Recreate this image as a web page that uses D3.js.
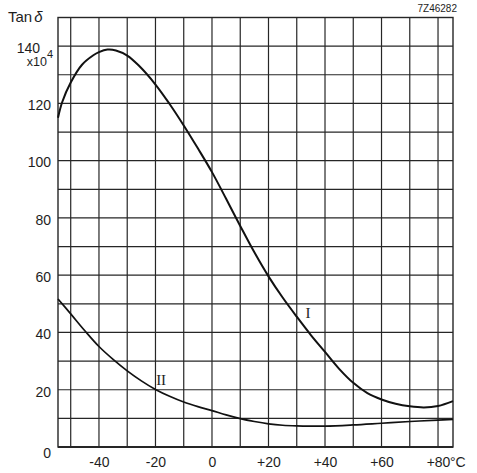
<!DOCTYPE html>
<html>
<head>
<meta charset="utf-8">
<script src="https://cdn.jsdelivr.net/npm/d3@7"></script>
<style>
  html, body { margin: 0; padding: 0; background: #fff; }
  svg { display: block; }
  text { fill: #1e1e1e; }
</style>
</head>
<body>
<script>
// ---- data ----
const tempI = [-54.5, -53, -50, -46, -42, -40, -37, -34, -30, -26, -20, -15, -10, -5, 0, 5, 10, 15, 20, 25, 30, 35, 40, 45, 50, 55, 60, 65, 70, 75, 80, 85.3];
const tanI  = [115, 120.5, 127.3, 133.5, 136.8, 137.9, 138.8, 138.5, 136.7, 133.3, 126.6, 119.8, 112.3, 104.3, 96, 86.7, 77.2, 68, 59.6, 52.2, 45.5, 39.1, 33.2, 27.3, 22.4, 18.8, 16.6, 15.1, 14.2, 13.8, 14.3, 16];
const tempII = [-54.5, -50, -45, -40, -35, -30, -25, -20, -15, -10, -5, 0, 5, 10, 15, 20, 25, 30, 40, 50, 60, 70, 80, 85.3];
const tanII  = [51.7, 46.5, 40.6, 35.1, 30.6, 26.6, 23.1, 20.1, 17.7, 15.7, 14.1, 12.7, 11.2, 9.9, 8.9, 8.1, 7.6, 7.4, 7.3, 7.7, 8.3, 8.9, 9.4, 9.6];
const xTickValues = [-40, -20, 0, 20, 40, 60, 80];
const xTickLabels = ["-40", "-20", "0", "+20", "+40", "+60", "+80"];
const xUnit = "°C";
const yTickValues = [0, 20, 40, 60, 80, 100, 120, 140];
const yTickLabels = ["0", "20", "40", "60", "80", "100", "120", "140"];
const xGrid = [-50, -40, -30, -20, -10, 0, 10, 20, 30, 40, 50, 60, 70, 80];
const yGrid = [10, 20, 30, 40, 50, 60, 70, 80, 90, 100, 110, 120, 130, 140];
const xDomain = [-54.5, 85.3];
const yDomain = [0, 150];
const curveNames = ["I", "II"];

// ---- layout ----
const W = 477, H = 473;
const svg = d3.select("body").append("svg").attr("width", W).attr("height", H);
const x = d3.scaleLinear().domain(xDomain).range([58, 453]);
const y = d3.scaleLinear().domain(yDomain).range([447, 17.5]);
const ink = "#262626";
const font = "'Liberation Sans', Arial, sans-serif";

// grid
const g = svg.append("g");
g.selectAll("line.v").data(xGrid).enter().append("line")
  .attr("x1", d => x(d)).attr("x2", d => x(d))
  .attr("y1", y(yDomain[0])).attr("y2", y(yDomain[1]))
  .attr("stroke", ink).attr("stroke-width", 1.2);
g.selectAll("line.h").data(yGrid).enter().append("line")
  .attr("x1", x(xDomain[0])).attr("x2", x(xDomain[1]))
  .attr("y1", d => y(d)).attr("y2", d => y(d))
  .attr("stroke", ink).attr("stroke-width", 1.2);
// border
svg.append("rect")
  .attr("x", x(xDomain[0])).attr("y", y(yDomain[1]))
  .attr("width", x(xDomain[1]) - x(xDomain[0]))
  .attr("height", y(yDomain[0]) - y(yDomain[1]))
  .attr("fill", "none").attr("stroke", ink).attr("stroke-width", 1.4);
svg.append("line")
  .attr("x1", x(xDomain[0])).attr("x2", x(xDomain[1]))
  .attr("y1", y(0)).attr("y2", y(0))
  .attr("stroke", ink).attr("stroke-width", 2.2);

// x axis labels
const xAxis = d3.axisBottom(x).tickValues(xTickValues)
  .tickFormat((d, i) => xTickLabels[i]).tickSize(0).tickPadding(10);
const gx = svg.append("g").attr("transform", `translate(0,${y(0)})`).call(xAxis);
gx.select(".domain").remove();
gx.selectAll("text").attr("font-family", font).attr("font-size", 14).attr("fill", ink);
gx.append("text").attr("x", x(xTickValues[xTickValues.length - 1]) + 12).attr("y", 10).attr("dy", "0.71em")
  .attr("text-anchor", "start")
  .attr("font-family", font).attr("font-size", 14).attr("fill", ink).text(xUnit);

// y axis labels
const yAxis = d3.axisLeft(y).tickValues(yTickValues)
  .tickFormat((d, i) => yTickLabels[i]).tickSize(0).tickPadding(7);
const gy = svg.append("g").attr("transform", `translate(${x(xDomain[0])},0)`).call(yAxis);
gy.select(".domain").remove();
gy.selectAll("text").attr("font-family", font).attr("font-size", 14).attr("fill", ink)
  .attr("dy", d => d === 0 ? "0.75em" : "0.45em")
  .attr("dx", d => d === 140 ? -11 : 0);

// x10^4 annotation under 140
const ann = svg.append("text").attr("x", x(xDomain[0]) - 5).attr("y", y(140) + 20)
  .attr("text-anchor", "end").attr("font-family", font).attr("font-size", 12.5).attr("fill", ink);
ann.append("tspan").text("x10");
ann.append("tspan").attr("dy", -8).attr("font-size", 11).text("4");

// Tan δ title
const t = svg.append("text").attr("x", 8).attr("y", 22)
  .attr("font-family", font).attr("font-size", 15).attr("fill", ink);
t.append("tspan").text("Tan");
t.append("tspan").attr("font-style", "italic").attr("dx", 2).text("δ");

// figure code
svg.append("text").attr("x", 457).attr("y", 12).attr("text-anchor", "end")
  .attr("font-family", font).attr("font-size", 10).attr("fill", "#555").text("7Z46282");

// curves
const line = d3.line().x(d => x(d[0])).y(d => y(d[1])).curve(d3.curveCatmullRom.alpha(0.5));
const dataI = tempI.map((t, i) => [t, tanI[i]]);
const dataII = tempII.map((t, i) => [t, tanII[i]]);
svg.append("path").datum(dataI).attr("d", line)
  .attr("fill", "none").attr("stroke", "#111").attr("stroke-width", 2);
svg.append("path").datum(dataII).attr("d", line)
  .attr("fill", "none").attr("stroke", "#111").attr("stroke-width", 1.7);

// curve labels
const serif = "'Liberation Serif', 'DejaVu Serif', serif";
svg.append("text").attr("x", x(34)).attr("y", y(45)).attr("text-anchor", "middle")
  .attr("font-family", serif).attr("font-size", 15).attr("fill", ink).text(curveNames[0]);
svg.append("text").attr("x", x(-18)).attr("y", y(21.5)).attr("text-anchor", "middle")
  .attr("font-family", serif).attr("font-size", 15).attr("fill", ink).text(curveNames[1]);
</script>
</body>
</html>
